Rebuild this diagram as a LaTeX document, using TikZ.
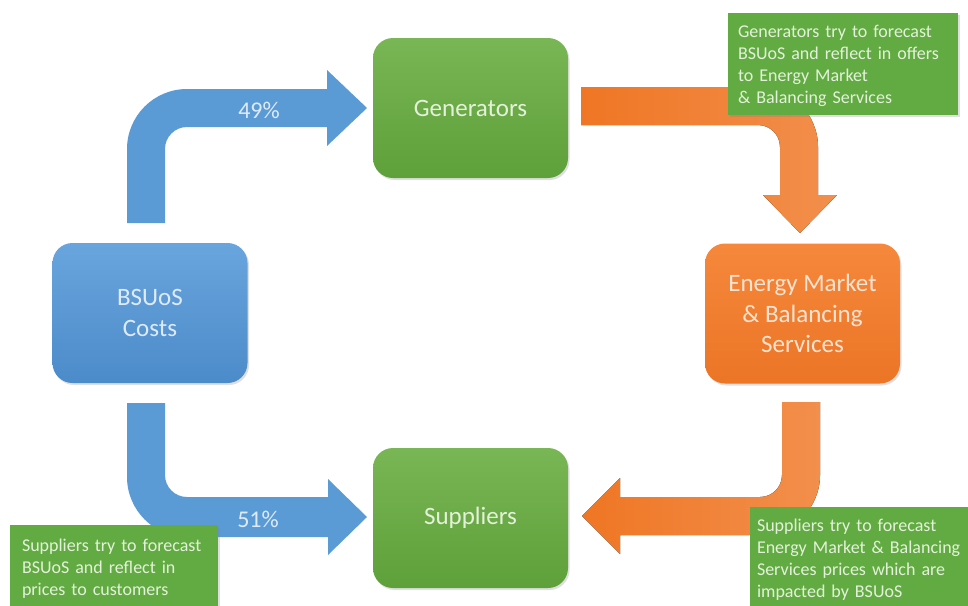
\documentclass[tikz,border=0pt]{standalone}
\usepackage{fontspec}
\setmainfont{Carlito}
\usetikzlibrary{shadows}
\definecolor{bluearrow}{HTML}{5B9BD5}
\definecolor{bluetop}{HTML}{69A5DD}
\definecolor{bluebot}{HTML}{4C8BCA}
\definecolor{greentop}{HTML}{79B655}
\definecolor{greenbot}{HTML}{5EA039}
\definecolor{orangetop}{HTML}{F5883C}
\definecolor{orangebot}{HTML}{EC7526}
\definecolor{orangearrowA}{HTML}{EF7624}
\definecolor{orangearrowB}{HTML}{F28F4C}
\definecolor{callgreen}{HTML}{62AB42}
\definecolor{bluetext}{HTML}{DEEBF7}
\definecolor{greentext}{HTML}{E4F1DA}
\definecolor{orangetext}{HTML}{FBE3D2}
\tikzset{
  mainbox/.style={rounded corners=20pt, minimum width=195pt, minimum height=140pt,
    align=center, font=\fontsize{25}{30.5}\selectfont,
    drop shadow={opacity=0.25, shadow xshift=1.5pt, shadow yshift=-2pt}},
  bluebox/.style={mainbox, top color=bluetop, bottom color=bluebot, text=bluetext},
  greenbox/.style={mainbox, top color=greentop, bottom color=greenbot, text=greentext},
  orangebox/.style={mainbox, top color=orangetop, bottom color=orangebot, text=orangetext},
  callout/.style={fill=callgreen, text=greentext, align=left, inner ysep=0pt,
    font=\fontsize{18}{22}\selectfont,
    drop shadow={opacity=0.25, shadow xshift=1.5pt, shadow yshift=-2pt}},
  pct/.style={text=bluetext, font=\fontsize{24}{28}\selectfont},
  bluearrowfill/.style={fill=bluearrow},
  orangearrowfill/.style={left color=orangearrowA, right color=orangearrowB}
}
\begin{document}
\begin{tikzpicture}[x=1pt,y=-1pt]
\useasboundingbox (0,0) rectangle (968,605);
\clip (0,0) rectangle (968,605);
\fill[white] (0,0) rectangle (968,605);

% block arrows
\fill[bluearrowfill] (127,223) -- (127,149) .. controls (127,115.9) and (153.9,89) .. (187,89)
  -- (327,89) -- (327,70) -- (367,108) -- (327,146) -- (327,127) -- (187,127)
  .. controls (174.85,127) and (165,136.85) .. (165,149) -- (165,223) -- cycle;
\fill[bluearrowfill] (127,403) -- (127,477) .. controls (127,510.1) and (153.9,537) .. (187,537)
  -- (328,537) -- (328,555) -- (367,517) -- (328,479) -- (328,497) -- (187,497)
  .. controls (174.85,497) and (165,487.15) .. (165,475) -- (165,403) -- cycle;
\fill[orangearrowfill] (581,87) -- (758,87) .. controls (791.1,87) and (818,113.9) .. (818,147)
  -- (818,195) -- (837,195) -- (800,233) -- (763,195) -- (780,195) -- (780,147)
  .. controls (780,134.85) and (770.15,125) .. (758,125) -- (581,125) -- cycle;
\fill[orangearrowfill] (782,402) -- (820,402) -- (820,475) .. controls (820,508.1) and (793.1,535) .. (760,535)
  -- (620,535) -- (620,554) -- (582,516) -- (620,478) -- (620,497) -- (760,497)
  .. controls (772.15,497) and (782,487.15) .. (782,475) -- cycle;

\node[pct] (p49) at (259,110) {49\%};
\node[pct] (p51) at (258,519) {51\%};

% main boxes
\node[bluebox] (bsuos) at (150,313) {BSUoS\\Costs};
\node[greenbox] (gen) at (470.5,108) {Generators};
\node[orangebox] (energy) at (802.5,313.5) {Energy Market\\\& Balancing\\Services};
\node[greenbox] (sup) at (470.5,518) {Suppliers};

% callouts
\node[callout, minimum width=230pt, minimum height=102pt, text width=210pt, inner xsep=10pt]
  (c1) at (843,64) {\rule{0pt}{17pt}Generators try to forecast\\BSUoS and reflect in offers\\to Energy Market\\\& Balancing Services};
\node[callout, minimum width=240pt, minimum height=103pt, text width=226pt, inner xsep=7pt]
  (c2) at (870,558.5) {\rule{0pt}{15pt}Suppliers try to forecast\\Energy Market \& Balancing\\Services prices which are\\impacted by BSUoS};
\node[callout, minimum width=208pt, minimum height=84pt, text width=184pt, inner xsep=12pt]
  (c3) at (114,567) {\rule{0pt}{15pt}Suppliers try to forecast\\BSUoS and reflect in\\prices to customers};
\end{tikzpicture}
\end{document}
